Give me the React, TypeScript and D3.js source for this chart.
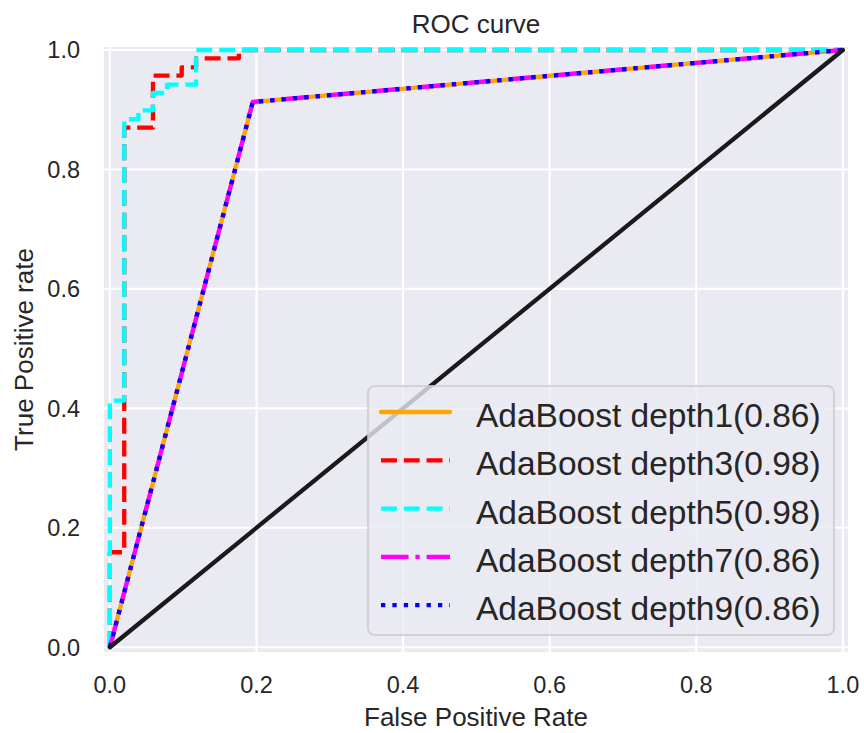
import React from "react";
import * as d3 from "d3";

// ---- data ----
const ticks = [0, 0.2, 0.4, 0.6, 0.8, 1.0];
const tickLabels = ["0.0", "0.2", "0.4", "0.6", "0.8", "1.0"];

const fprDepth1 = [0, 0.195, 1];
const tprDepth1 = [0, 0.913, 1];
const fprDepth3 = [0, 0, 0.0196, 0.0196, 0.0588, 0.0588, 0.098, 0.098, 0.1176, 0.1176, 0.176, 0.176, 1];
const tprDepth3 = [0, 0.159, 0.159, 0.87, 0.87, 0.957, 0.957, 0.971, 0.971, 0.986, 0.986, 1, 1];
const fprDepth5 = [0, 0, 0.0196, 0.0196, 0.039, 0.039, 0.0588, 0.0588, 0.078, 0.078, 0.1176, 0.1176, 1];
const tprDepth5 = [0, 0.413, 0.413, 0.884, 0.884, 0.899, 0.899, 0.928, 0.928, 0.942, 0.942, 1, 1];
const fprDepth7 = [0, 0.195, 1];
const tprDepth7 = [0, 0.913, 1];
const fprDepth9 = [0, 0.195, 1];
const tprDepth9 = [0, 0.913, 1];
const diagX = [0, 1];
const diagY = [0, 1];

const seriesLabels = [
  "AdaBoost depth1(0.86)",
  "AdaBoost depth3(0.98)",
  "AdaBoost depth5(0.98)",
  "AdaBoost depth7(0.86)",
  "AdaBoost depth9(0.86)",
];

const FONT = "'Liberation Sans', Arial, sans-serif";
const W = 864;
const H = 733;

export default function App() {
  const x = d3.scaleLinear().domain([-0.008, 1.007]).range([104, 848]);
  const y = d3.scaleLinear().domain([-0.008, 1.005]).range([652, 47]);
  const lw = 4.3;

  const series = [
    { xs: fprDepth1, ys: tprDepth1, color: "#FFA500", dash: "" },
    { xs: fprDepth3, ys: tprDepth3, color: "#FF0000", dash: `${3.7 * lw} ${1.6 * lw}` },
    { xs: fprDepth5, ys: tprDepth5, color: "#00FFFF", dash: `${3.7 * lw} ${1.6 * lw}` },
    { xs: fprDepth7, ys: tprDepth7, color: "#FF00FF", dash: `${6.4 * lw} ${1.6 * lw} ${1 * lw} ${1.6 * lw}` },
    { xs: fprDepth9, ys: tprDepth9, color: "#0000FF", dash: `${1 * lw} ${1.65 * lw}` },
  ];

  const line = d3
    .line<[number, number]>()
    .x((d) => x(d[0]))
    .y((d) => y(d[1]));

  const pts = (xs: number[], ys: number[]) => xs.map((v, i) => [v, ys[i]] as [number, number]);

  const [x0, x1] = x.range();
  const [y0, y1] = y.range();

  // legend geometry
  const legFont = 33.5;
  const legRight = 834;
  const legBottom = 635;
  const legLeft = 368;
  const legTop = 386;
  const rowH = 48.3;
  const firstRow = 412;
  const handleX0 = 381;
  const handleX1 = 450;
  const textX = 476;

  return (
    <svg
      width={W}
      height={H}
      style={{ position: "absolute", left: 0, top: 0, background: "#fff" }}
      fontFamily={FONT}
    >
      <rect x={0} y={0} width={W} height={H} fill="#fff" />
      <rect x={x0} y={y1} width={x1 - x0} height={y0 - y1} fill="#EAEAF2" />
      {ticks.map((t) => (
        <line key={"gx" + t} x1={x(t)} x2={x(t)} y1={y0} y2={y1} stroke="#fff" strokeWidth={2.1} />
      ))}
      {ticks.map((t) => (
        <line key={"gy" + t} x1={x0} x2={x1} y1={y(t)} y2={y(t)} stroke="#fff" strokeWidth={2.1} />
      ))}

      {series.map((s, i) => (
        <path
          key={i}
          d={line(pts(s.xs, s.ys)) || ""}
          fill="none"
          stroke={s.color}
          strokeWidth={lw}
          strokeDasharray={s.dash || undefined}
          strokeLinejoin="round"
          strokeLinecap={s.dash ? "butt" : "round"}
        />
      ))}
      <path
        d={line(pts(diagX, diagY)) || ""}
        fill="none"
        stroke="#1A1A1A"
        strokeWidth={lw}
        strokeLinecap="round"
      />

      {/* tick labels */}
      {ticks.map((t, i) => (
        <text key={"tx" + t} x={x(t)} y={693} textAnchor="middle" fontSize={23.5} fill="#262626">
          {tickLabels[i]}
        </text>
      ))}
      {ticks.map((t, i) => (
        <text key={"ty" + t} x={80} y={y(t) + 8.5} textAnchor="end" fontSize={23.5} fill="#262626">
          {tickLabels[i]}
        </text>
      ))}

      {/* axis labels and title */}
      <text x={(x0 + x1) / 2} y={726} textAnchor="middle" fontSize={26} fill="#262626">
        False Positive Rate
      </text>
      <text
        transform={`translate(33, ${(y0 + y1) / 2}) rotate(-90)`}
        textAnchor="middle"
        fontSize={26}
        fill="#262626"
      >
        True Positive rate
      </text>
      <text x={(x0 + x1) / 2} y={33} textAnchor="middle" fontSize={26} fill="#262626">
        ROC curve
      </text>

      {/* legend */}
      <rect
        x={legLeft}
        y={legTop}
        width={legRight - legLeft}
        height={legBottom - legTop}
        rx={6.7}
        ry={6.7}
        fill="#EAEAF2"
        fillOpacity={0.8}
        stroke="#CCCCCC"
        strokeOpacity={0.8}
        strokeWidth={2.1}
      />
      {series.map((s, i) => {
        const ly = firstRow + i * rowH;
        return (
          <g key={"leg" + i}>
            <line
              x1={handleX0}
              x2={handleX1}
              y1={ly}
              y2={ly}
              stroke={s.color}
              strokeWidth={lw}
              strokeDasharray={s.dash || undefined}
              strokeLinecap={s.dash ? "butt" : "round"}
            />
            <text x={textX} y={ly + 15} fontSize={legFont} fill="#262626">
              {seriesLabels[i]}
            </text>
          </g>
        );
      })}
    </svg>
  );
}
